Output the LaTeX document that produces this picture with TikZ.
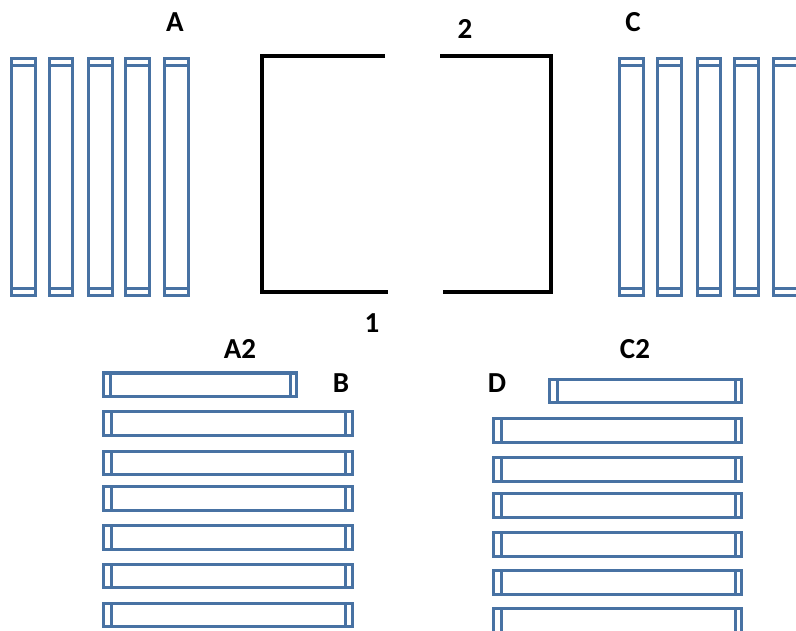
\documentclass[tikz,border=0pt]{standalone}
\usepackage{fontspec}
\setmainfont{Carlito}
\definecolor{barblue}{RGB}{72,114,163}
\begin{document}
\begin{tikzpicture}[x=1pt,y=-1pt,
  bar/.style={draw=barblue,line width=3pt},
  frame/.style={draw=black,line width=3.6pt,line join=miter},
  lbl/.style={font=\bfseries\fontsize{29}{31}\selectfont,inner sep=0pt}]
\useasboundingbox (0,0) rectangle (796,631);
\clip (0,0) rectangle (796,631);
% vertical bars (A and C)
\foreach \xa/\xb in {11/35,49/72,88/112,125/149,164/188,619/643,657/681,697/720,734/758,773/799}{
  \draw[bar] (\xa,59) rectangle (\xb,296);
  \draw[bar] (\xa,66) -- (\xb,66);
  \draw[bar] (\xa,289) -- (\xb,289);
}
% black frame
\draw[frame] (385,56) -- (262,56) -- (262,292) -- (388,292);
\draw[frame] (440,56) -- (551,56) -- (551,292) -- (443,292);
% left horizontal stack
\draw[bar] (103,373) rectangle (296,396);
\draw[bar] (110,373) -- (110,396);
\draw[bar] (290,373) -- (290,396);
\foreach \ya/\yb in {411/435,451/474,486/510,525/549,564/587,603/626}{
  \draw[bar] (103,\ya) rectangle (352,\yb);
  \draw[bar] (111,\ya) -- (111,\yb);
  \draw[bar] (345,\ya) -- (345,\yb);
}
% right horizontal stack
\draw[bar] (549,379) rectangle (741,402);
\draw[bar] (557,379) -- (557,402);
\draw[bar] (735,379) -- (735,402);
\foreach \ya/\yb in {418/442,457/481,493/517,532/556,570/594,608/646}{
  \draw[bar] (493,\ya) rectangle (741,\yb);
  \draw[bar] (501,\ya) -- (501,\yb);
  \draw[bar] (735,\ya) -- (735,\yb);
}
% labels
\node[lbl] (A) at (175,22) {A};
\node[lbl] (two) at (465,29) {2};
\node[lbl] (C) at (633,22) {C};
\node[lbl] (one) at (372,323) {1};
\node[lbl] (A2) at (240,349) {A2};
\node[lbl] (B) at (341,383) {B};
\node[lbl] (C2) at (635,349) {C2};
\node[lbl] (D) at (497,383) {D};
\end{tikzpicture}
\end{document}
